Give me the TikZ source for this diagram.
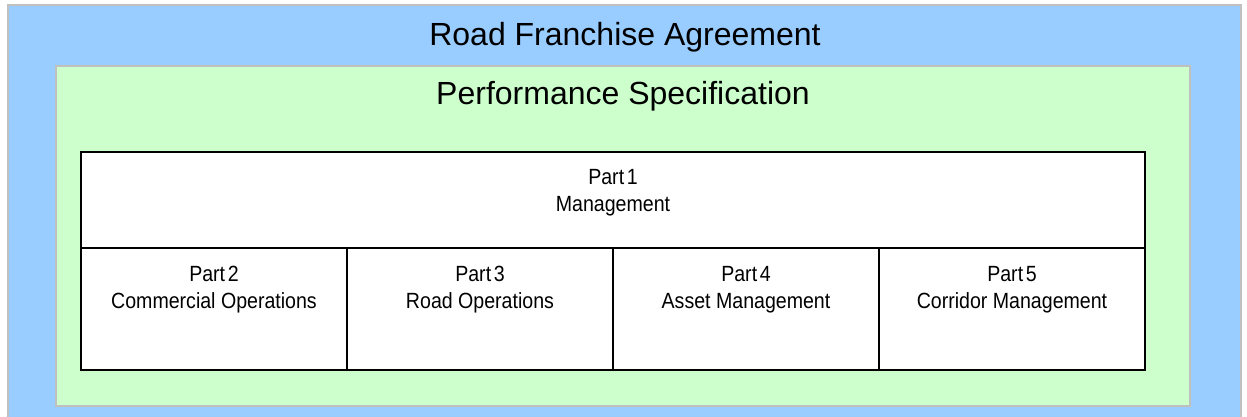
\documentclass[tikz,border=0pt]{standalone}
\usepackage{fontspec}
\setmainfont{Liberation Sans}
\newfontfamily\narrowfont[FakeStretch=0.89]{Liberation Sans}
\definecolor{outerblue}{HTML}{99CCFF}
\definecolor{innergreen}{HTML}{CCFFCC}
\definecolor{framegray}{HTML}{C0C0C0}
\newcommand{\partno}[1]{Part\hspace{0.12em}#1}
\tikzset{
  panel/.style={draw=framegray, line width=2pt},
  cell/.style={draw=black, fill=white, line width=1.8pt},
  title/.style={font=\fontsize{32}{38}\selectfont, inner sep=0pt},
  celltext/.style={font=\narrowfont\fontsize{22}{27}\selectfont, align=center, inner sep=0pt, anchor=north},
}
\begin{document}
\begin{tikzpicture}[x=1pt,y=-1pt]
\useasboundingbox (0,0) rectangle (1247,417);
\clip (0,0) rectangle (1247,417);
\fill[white] (0,0) rectangle (1247,417);
\path[panel, fill=outerblue] (8,5) rectangle (1241,425);
\path[panel, fill=innergreen] (56,66) rectangle (1190,406);
\node[title] (rfat) at (625,37) {Road Franchise Agreement};
\node[title] (pst) at (623,96) {Performance Specification};
\path[cell] (81,152) rectangle (1145,248);
\path[cell] (81,248) rectangle (347,370);
\path[cell] (347,248) rectangle (613,370);
\path[cell] (613,248) rectangle (879,370);
\path[cell] (879,248) rectangle (1145,370);
\node[celltext] (p1) at (613,169) {\partno{1}\\Management};
\node[celltext] (p2) at (214,266) {\partno{2}\\Commercial Operations};
\node[celltext] (p3) at (480,266) {\partno{3}\\Road Operations};
\node[celltext] (p4) at (746,266) {\partno{4}\\Asset Management};
\node[celltext] (p5) at (1012,266) {\partno{5}\\Corridor Management};
\end{tikzpicture}
\end{document}
